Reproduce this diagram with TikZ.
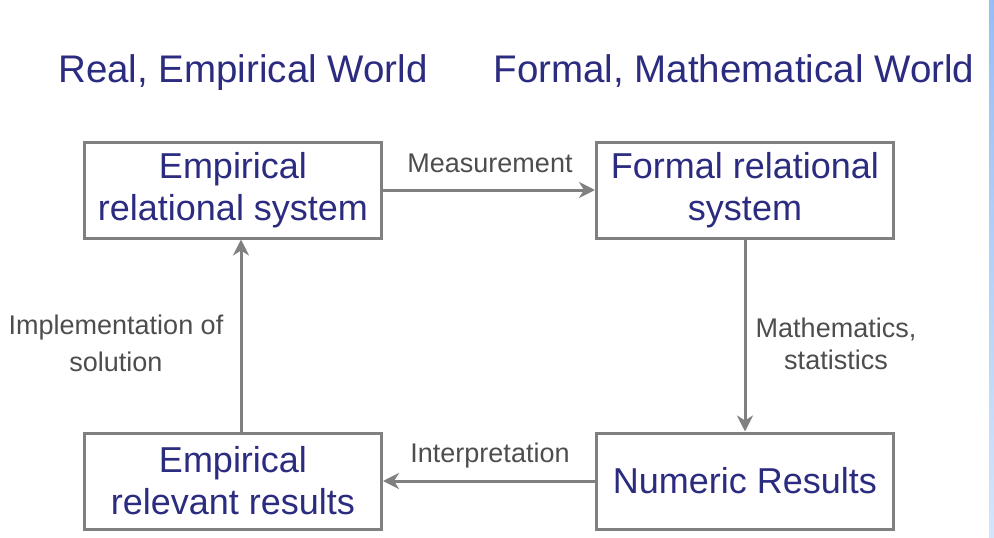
\documentclass[tikz,border=0pt]{standalone}
\usepackage{fontspec}
\setmainfont{Liberation Sans}
\usetikzlibrary{arrows.meta}
\definecolor{world_blue}{RGB}{43, 43, 127}
\definecolor{box_gray}{RGB}{128, 128, 128}
\definecolor{label_gray}{RGB}{77, 77, 77}
\definecolor{strip_top}{RGB}{150, 190, 245}
\definecolor{strip_bot}{RGB}{212, 229, 251}
\tikzstyle{box}=[rectangle,draw=box_gray,line width=3pt,text=world_blue,
  align=center,minimum width=297pt,minimum height=96pt,inner sep=0pt,
  font=\fontsize{36}{42}\selectfont]
\tikzstyle{world}=[text=world_blue,anchor=base,inner sep=0pt,
  font=\fontsize{38.5}{44}\selectfont]
\tikzstyle{lbl}=[text=label_gray,anchor=base,align=center,inner sep=0pt,
  font=\fontsize{27}{37}\selectfont]
\tikzstyle{flow}=[draw=box_gray,line width=3pt,
  -{Stealth[length=16pt,width=16pt,inset=5pt]}]

\begin{document}
\begin{tikzpicture}[x=1pt,y=-1pt]
    \useasboundingbox (0,0) rectangle (994,538);
    \shade[top color=strip_top,bottom color=strip_bot] (989,0) rectangle (994,538);
    \node [style=world] (real) at (243,82) {Real, Empirical World};
    \node [style=world] (formal) at (734,82) {Formal, Mathematical World};
    \node [style=box] (ers) at (233,190) {Empirical\\relational system};
    \node [style=box] (frs) at (745,190) {Formal relational\\system};
    \node [style=box] (nr) at (745,481) {Numeric Results};
    \node [style=box] (err) at (233,481) {Empirical\\relevant results};
    \node [style=lbl] (meas) at (490,172) {Measurement};
    \node [style=lbl] (interp) at (490,462) {Interpretation};
    \node [style=lbl,font=\fontsize{27}{32}\selectfont] (maths) at (836,369) {Mathematics,\\statistics};
    \node [style=lbl] (impl) at (116,371) {Implementation of\\solution};
    \draw [style=flow] (ers) to (frs);
    \draw [style=flow] (frs) to (nr);
    \draw [style=flow] (nr) to (err);
    \draw [style=flow] ([xshift=8pt]err.north) to ([xshift=8pt]ers.south);
  \end{tikzpicture}
\end{document}
